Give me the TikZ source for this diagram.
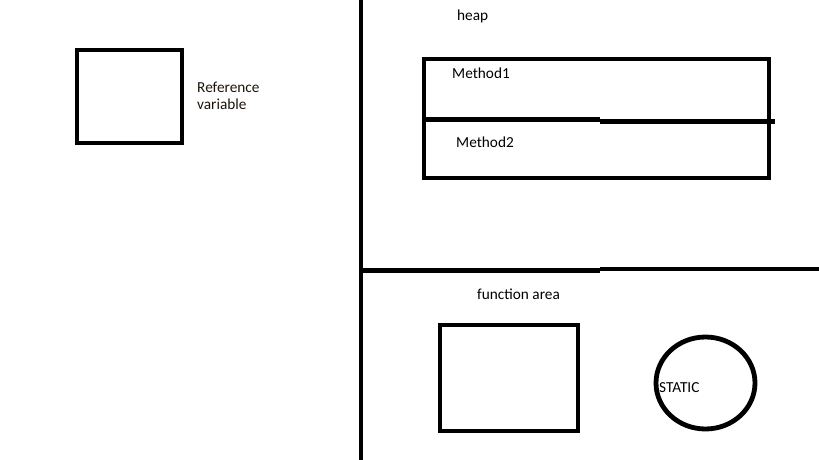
\documentclass[tikz,border=0pt]{standalone}
\usepackage{fontspec}
\setmainfont{Carlito}
\usetikzlibrary{shapes.geometric}
\begin{document}
\begin{tikzpicture}[x=1pt,y=-1pt,
  thick line/.style={line width=4.8pt},
  lbl/.style={anchor=west,inner sep=0pt,font=\fontsize{15.3}{17}\selectfont},
  boxshape/.style={draw,line width=4.8pt,inner sep=0pt}]
\useasboundingbox (0,0) rectangle (819,460);
% left reference box
\node[boxshape,minimum width=105pt,minimum height=93pt] (ref) at (129.5,96.5) {};
\node[lbl,align=left,text=black!85!brown] (reftxt) at (197,96) {Reference\\variable};
% divider lines
\coordinate (vtop) at (361,0);
\coordinate (vbot) at (361,460);
\draw[thick line] (vtop) -- (vbot);
\coordinate (h1) at (361,270.5);
\coordinate (h2) at (600,270.5);
\coordinate (h3) at (600,269);
\coordinate (h4) at (819,269);
\draw[thick line] (h1) -- (h2);
\draw[thick line] (h3) -- (h4);
% heap
\node[lbl] (heap) at (457,16) {heap};
\node[boxshape,minimum width=345pt,minimum height=119pt] (heapbox) at (596.5,118.5) {};
\coordinate (m1) at (424,119.5);
\coordinate (m2) at (600,119.5);
\coordinate (m3) at (600,121.2);
\coordinate (m4) at (775,121.2);
\draw[thick line] (m1) -- (m2);
\draw[thick line] (m3) -- (m4);
\node[lbl] (meth1) at (452,73) {Method1};
\node[lbl] (meth2) at (456,142) {Method2};
% function area
\node[lbl] (func) at (477,294) {function area};
\node[boxshape,minimum width=138pt,minimum height=106pt] (fbox) at (509,378) {};
\node[boxshape,ellipse,minimum width=99pt,minimum height=92pt] (static) at (705.5,383) {};
\node[lbl] (stattxt) at (659,388) {STATIC};
\end{tikzpicture}
\end{document}
